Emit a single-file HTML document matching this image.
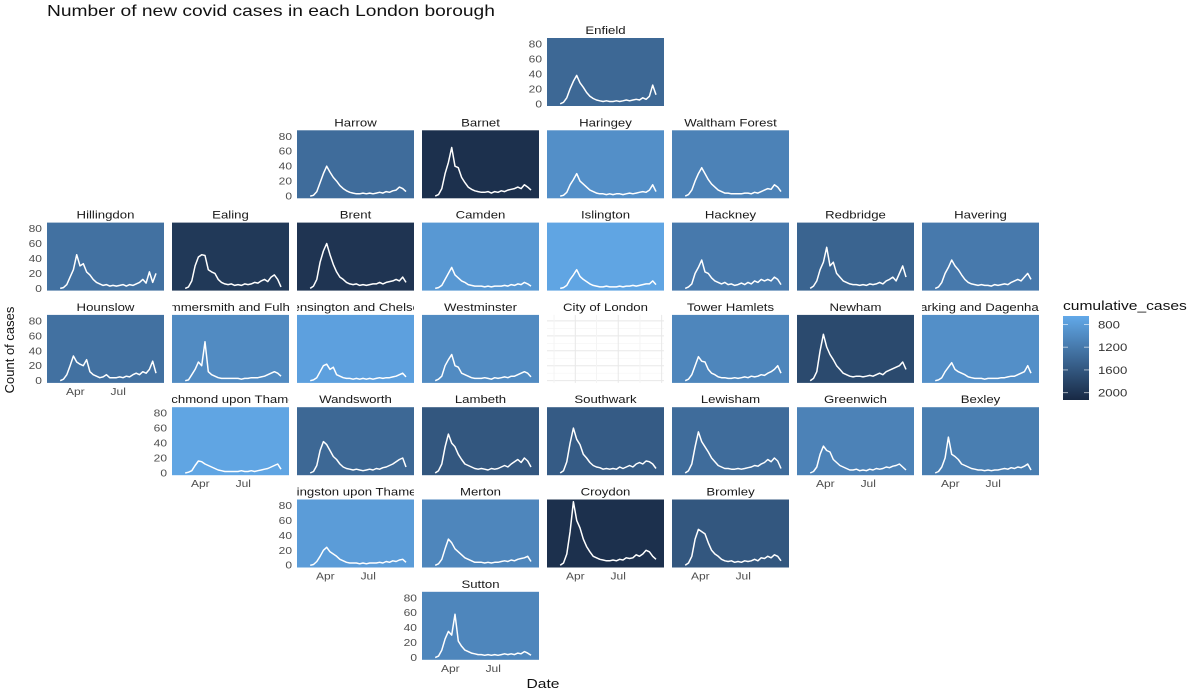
<!DOCTYPE html>
<html><head><meta charset="utf-8"><style>
body{margin:0;background:#fff;}
svg{display:block;font-family:"Liberation Sans",sans-serif;}
</style></head><body>
<svg id="chart" width="1200" height="694" xmlns="http://www.w3.org/2000/svg">
<text x="47" y="16" font-size="16" fill="#111">Number of new covid cases in each London borough</text>
<text x="543" y="688" font-size="13" fill="#111" text-anchor="middle">Date</text>
<text transform="translate(14,350) rotate(-90)" font-size="13" fill="#111" text-anchor="middle">Count of cases</text>
</svg>
<script>
const dayIdx=[28,35,42,49,56,63,70,77,84,91,98,105,112,119,126,133,140,147,154,161,168,175,182,189,196,203,210,217,224,231];
const boroughs=["Enfield","Harrow","Barnet","Haringey","Waltham Forest","Hillingdon","Ealing","Brent","Camden","Islington","Hackney","Redbridge","Havering","Hounslow","Hammersmith and Fulham","Kensington and Chelsea","Westminster","City of London","Tower Hamlets","Newham","Barking and Dagenham","Richmond upon Thames","Wandsworth","Lambeth","Southwark","Lewisham","Greenwich","Bexley","Kingston upon Thames","Merton","Croydon","Bromley","Sutton"];
const gridRow=[0,1,1,1,1,2,2,2,2,2,2,2,2,3,3,3,3,3,3,3,3,4,4,4,4,4,4,4,5,5,5,5,6];
const gridCol=[4,2,3,4,5,0,1,2,3,4,5,6,7,0,1,2,3,4,5,6,7,1,2,3,4,5,6,7,2,3,4,5,3];
const cumulative=[1400,1350,2050,950,1100,1300,1950,2000,850,700,1200,1450,1200,1300,1000,750,1000,null,1050,1750,950,700,1400,1600,1550,1350,1100,1150,800,1050,2050,1600,1050];
const cases=[
[0,2,8,20,30,38,28,22,15,10,7,5,4,3,4,3,3,4,3,4,5,4,5,6,5,8,6,10,25,12],
[0,1,6,18,30,40,32,25,20,14,10,7,5,4,3,3,4,3,4,3,4,5,4,6,5,7,8,12,10,6],
[0,2,10,30,45,65,40,38,25,18,12,9,7,6,5,5,6,4,6,5,7,6,8,9,10,12,10,15,12,8],
[0,1,5,15,22,30,20,16,12,8,6,4,3,3,2,3,2,3,3,2,3,4,3,4,5,6,5,8,15,6],
[0,2,8,20,30,38,30,22,16,12,8,6,4,4,3,3,3,3,4,4,3,5,4,6,8,10,9,15,12,6],
[0,1,5,15,25,45,30,33,22,18,12,8,6,4,5,3,4,3,4,5,3,5,4,6,8,12,7,22,8,20],
[0,2,10,30,42,45,44,25,22,20,12,8,6,5,6,4,5,4,6,5,6,8,7,10,12,9,15,18,12,2],
[0,3,12,35,50,60,45,32,22,15,12,8,6,5,6,4,5,4,5,6,6,8,6,8,9,10,12,10,15,8],
[0,1,4,12,20,28,18,14,10,8,5,4,3,3,3,2,3,2,3,3,3,4,3,5,4,6,5,8,6,3],
[0,1,4,12,18,25,16,12,9,6,4,3,2,2,3,2,2,2,3,2,3,3,4,3,4,5,6,6,10,5],
[0,2,6,20,28,38,22,20,14,10,8,6,8,5,6,4,5,7,5,8,6,10,8,12,10,12,10,15,12,5],
[0,3,10,25,35,55,30,35,20,15,10,8,6,5,5,4,5,4,6,5,6,8,6,10,12,15,10,20,30,15],
[0,2,8,20,28,38,30,25,18,12,8,6,5,4,5,4,4,3,5,4,5,6,5,8,10,12,10,15,20,12],
[0,2,8,20,33,25,22,20,28,12,8,6,4,5,8,4,4,4,5,4,6,5,8,10,8,12,10,15,26,10],
[0,1,8,15,25,20,52,12,8,6,4,3,3,3,3,3,3,2,3,3,4,4,4,5,6,8,10,12,10,6],
[0,1,4,12,20,22,15,18,8,6,4,3,3,2,3,2,3,2,3,2,3,4,3,4,4,5,6,8,10,5],
[0,2,6,20,28,35,20,18,10,8,6,4,3,3,3,4,3,2,4,3,4,5,4,6,6,8,10,12,10,5],
null,
[0,2,8,20,32,26,25,15,10,8,5,4,4,3,3,4,3,4,5,4,6,5,6,8,7,10,12,15,20,10],
[0,3,12,40,62,45,35,28,20,15,10,8,6,5,6,6,5,6,7,6,8,10,8,12,14,16,18,20,25,15],
[0,1,4,12,18,24,15,12,10,8,5,4,3,3,3,2,3,3,3,3,4,4,5,6,6,8,10,12,20,10],
[0,1,3,10,16,15,12,10,8,6,4,3,2,2,2,2,2,3,2,2,3,2,3,4,5,6,8,10,12,5],
[0,2,10,30,42,38,30,22,18,12,8,6,5,4,5,4,3,4,5,4,6,5,7,8,10,12,15,18,20,8],
[0,3,12,35,52,40,35,25,18,12,10,8,6,5,6,5,4,6,5,6,8,10,8,12,15,18,14,20,16,8],
[0,3,15,40,60,45,38,25,20,14,10,8,7,5,6,5,6,5,8,6,8,10,8,12,14,12,16,15,12,6],
[0,3,12,35,55,42,35,28,20,15,10,8,6,6,5,5,6,5,6,7,8,10,9,12,14,18,15,20,16,6],
[0,2,8,25,36,30,28,18,14,10,8,6,4,4,5,3,4,3,5,4,6,5,6,8,7,9,10,12,8,4],
[0,2,8,20,48,25,22,18,12,10,8,6,5,4,4,3,4,3,4,4,5,6,5,7,6,8,7,9,12,4],
[0,1,5,12,20,24,18,15,12,8,6,4,3,3,3,2,3,2,3,3,3,4,3,5,4,6,5,7,8,4],
[0,2,8,22,35,30,22,18,14,10,8,6,4,4,4,3,4,3,4,4,5,6,5,7,6,8,9,10,12,5],
[0,3,15,45,85,60,50,35,25,18,12,10,8,7,6,6,7,6,8,7,10,9,10,14,12,15,20,18,12,8],
[0,3,12,35,48,45,42,30,20,15,12,8,6,5,6,4,5,4,6,5,6,8,6,10,9,12,10,14,12,6],
[0,2,10,25,35,30,58,22,15,10,8,6,5,4,4,3,4,3,4,3,4,5,4,5,4,6,5,8,6,3]
];
const yTicks=[0,20,40,60,80];
const xTickDays=[60,151];
const xTickLabels=["Apr","Jul"];
const legendTicks=[800,1200,1600,2000];

const NS="http://www.w3.org/2000/svg";
const svg=document.getElementById('chart');
const PW=117,PH=68,X0=47,Y0=38,CP=125,RP=92.3;
const xDom=[0,248],yDom=[-3,88],cDom=[650,2130];
function mk(t,a,p){const e=document.createElementNS(NS,t);for(const k in a)e.setAttribute(k,a[k]);(p||svg).appendChild(e);return e;}
function xs(d,l){return l+(d-xDom[0])/(xDom[1]-xDom[0])*PW;}
function ys(v,t){return t+PH-(v-yDom[0])/(yDom[1]-yDom[0])*PH;}
function col(v){let t=(v-cDom[0])/(cDom[1]-cDom[0]);t=Math.max(0,Math.min(1,t));
 const a=[0x62,0xA9,0xE9],b=[0x18,0x29,0x44];return 'rgb('+a.map((c,i)=>Math.round(c+(b[i]-c)*t)).join(',')+')';}
function stretch(t){const x=parseFloat(t.getAttribute('x'));t.setAttribute('transform','translate('+x+',0) scale(1.2,1) translate('+(-x)+',0)');}
svg.querySelectorAll('text[x]').forEach(stretch);
const minCol={},maxRow={};
boroughs.forEach((b,i)=>{const r=gridRow[i],c=gridCol[i];
 if(minCol[r]===undefined||c<minCol[r])minCol[r]=c;
 if(maxRow[c]===undefined||r>maxRow[c])maxRow[c]=r;});
boroughs.forEach((b,i)=>{
 const r=gridRow[i],c=gridCol[i];const L=X0+c*CP,T=Y0+r*RP;
 const g=mk('g',{});
 
 
 const cp=mk('clipPath',{id:'clip'+i},g);mk('rect',{x:L,y:T-16,width:PW,height:16},cp);
 const sg=mk('g',{'clip-path':'url(#clip'+i+')'},g);
 const st=mk('text',{x:L+PW/2,y:T-4,'font-size':11,'text-anchor':'middle',fill:'#1a1a1a'},sg);
 st.textContent=b;
 
 
 stretch(st);
 if(cumulative[i]===null){
  mk('rect',{x:L,y:T,width:PW,height:PH,fill:'#fff'},g);
  for(let v=0;v<=80;v+=10){const y=ys(v,T);mk('line',{x1:L,x2:L+PW,y1:y,y2:y,stroke:v%20?'#f4f4f4':'#e8e8e8','stroke-width':v%20?0.6:1},g);}
  [15,60,105,151,197,243].forEach((d,k)=>{const x=xs(d,L);mk('line',{x1:x,x2:x,y1:T,y2:T+PH,stroke:k%2?'#e8e8e8':'#f4f4f4'},g);});
 } else {
  const bg=mk('rect',{x:L,y:T,width:PW,height:PH,fill:col(cumulative[i])},g);
  
  
  const pts=cases[i].map((v,k)=>xs(dayIdx[k],L).toFixed(1)+','+ys(v,T).toFixed(1)).join(' ');
  const ln=mk('polyline',{points:pts,fill:'none',stroke:'#fff','stroke-width':1.5,'stroke-linejoin':'round'},g);
  
  
 }
 if(minCol[r]===c){yTicks.forEach(v=>{const t=mk('text',{x:L-5,y:ys(v,T)+3.5,'font-size':10,'text-anchor':'end',fill:'#4d4d4d'},g);t.textContent=v;
  
  
  stretch(t);});}
 if(maxRow[c]===r){xTickDays.forEach((d,k)=>{const t=mk('text',{x:xs(d,L),y:T+PH+12,'font-size':10,'text-anchor':'middle',fill:'#4d4d4d'},g);t.textContent=xTickLabels[k];
  
  
  stretch(t);});}
});
// legend
const lg=mk('g',{});


const lt=mk('text',{x:1063,y:310,'font-size':13,fill:'#111'},lg);lt.textContent='cumulative_cases';stretch(lt);
const LT=316,LB=400,LX=1063,LW=26;
const defs=mk('defs',{},lg);const gr=mk('linearGradient',{id:'lgrad',x1:0,y1:0,x2:0,y2:1},defs);
mk('stop',{offset:0,'stop-color':col(cDom[0])},gr);mk('stop',{offset:1,'stop-color':col(cDom[1])},gr);
const lyScale=v=>LT+(v-cDom[0])/(cDom[1]-cDom[0])*(LB-LT);
mk('rect',{x:LX,y:LT,width:LW,height:LB-LT,fill:'url(#lgrad)'},lg);
legendTicks.forEach(v=>{const y=lyScale(v);
 mk('line',{x1:LX,x2:LX+5,y1:y,y2:y,stroke:'#fff','stroke-opacity':0.6},lg);
 mk('line',{x1:LX+LW-5,x2:LX+LW,y1:y,y2:y,stroke:'#fff','stroke-opacity':0.6},lg);
 const t=mk('text',{x:1098,y:y+4,'font-size':11,fill:'#333'},lg);t.textContent=v;
 
 
 stretch(t);});
</script>
</body></html>
